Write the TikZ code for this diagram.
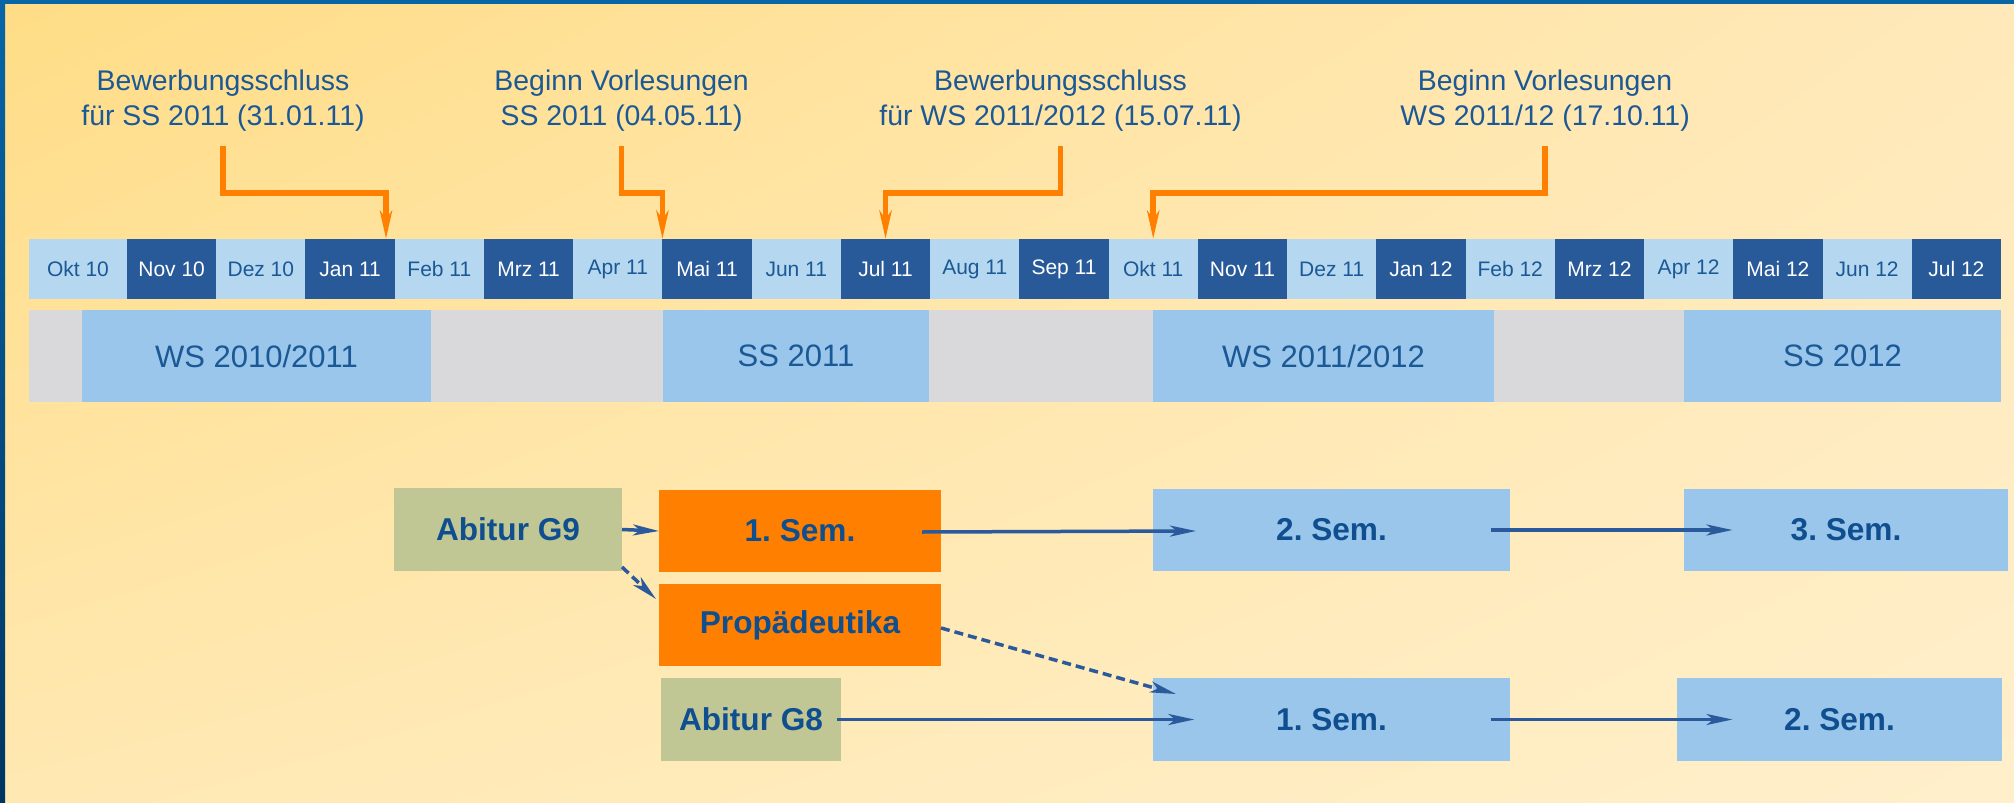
\documentclass[tikz,border=0pt]{standalone}
\usepackage{fontspec}
\setmainfont{Liberation Sans}
\usetikzlibrary{arrows.meta,calc,shadings}
\frenchspacing
\definecolor{bgUL}{HTML}{FFDD86}
\definecolor{bgUR}{HTML}{FFE9BA}
\definecolor{bgLL}{HTML}{FFE8B2}
\definecolor{bgLR}{HTML}{FFEFCB}
\definecolor{frameA}{HTML}{0865A6}
\definecolor{frameB}{HTML}{003562}
\definecolor{labtext}{HTML}{1B5896}
\definecolor{nodetext}{HTML}{0F4F8F}
\definecolor{mlightc}{HTML}{B5D7EF}
\definecolor{mdarkc}{HTML}{285A99}
\definecolor{semblue}{HTML}{99C6EA}
\definecolor{semgray}{HTML}{D9D9DB}
\definecolor{orangec}{HTML}{FF8000}
\definecolor{greenc}{HTML}{C1C794}
\definecolor{arrowc}{HTML}{2A5A9B}
\begin{document}
\begin{tikzpicture}[x=0.5pt,y=-0.5pt,
  month/.style={inner sep=0pt, outer sep=0pt, minimum height=30pt, minimum width=44.619pt, font=\fontsize{10.5}{12}\selectfont},
  mlight/.style={month, fill=mlightc, text=labtext},
  mdark/.style={month, fill=mdarkc, text=white},
  sem/.style={inner sep=0pt, outer sep=0pt, minimum height=46pt, fill=semblue, text=labtext, font=\fontsize{15.5}{18}\selectfont},
  toplab/.style={inner sep=0pt, align=center, text=labtext, font=\fontsize{14.2}{17.5}\selectfont},
  box/.style={inner sep=0pt, outer sep=0pt, minimum height=41.5pt, text=nodetext, font=\fontsize{15.8}{18}\selectfont\bfseries},
  obox/.style={box, fill=orangec},
  gbox/.style={box, fill=greenc},
  bbox/.style={box, fill=semblue},
  oarrow/.style={draw=orangec, line width=2.75pt, -{Stealth[length=14pt,width=6pt,inset=4pt]}},
  barrow/.style={draw=arrowc, line width=1.75pt, -{Stealth[length=13pt,width=5.5pt,inset=3.5pt]}},
  darrow/.style={barrow, dash pattern=on 4.5pt off 2.5pt}]
\useasboundingbox (0,0) rectangle (2014,803);
% background
\shade[upper left=bgUL, upper right=bgUR, lower left=bgLL, lower right=bgLR] (0,0) rectangle (2014,803);
\fill[frameA] (0,0) rectangle (2014,4);
\shade[top color=frameA, bottom color=frameB] (0,0) rectangle (5,803);
% top labels
\node[toplab] (lab1) at (223,101) {Bewerbungsschluss\\für SS 2011 (31.01.11)};
\node[toplab] (lab2) at (621.6,101) {Beginn Vorlesungen\\SS 2011 (04.05.11)};
\node[toplab] (lab3) at (1060.5,101) {Bewerbungsschluss\\für WS 2011/2012 (15.07.11)};
\node[toplab] (lab4) at (1545,101) {Beginn Vorlesungen\\WS 2011/12 (17.10.11)};
% months
\node[mlight, minimum width=49pt] (m0) at (78,269) {Okt 10};
\foreach \lab/\sty [count=\i] in {Nov 10/mdark, Dez 10/mlight, Jan 11/mdark, Feb 11/mlight, Mrz 11/mdark, Apr 11/mlight, Mai 11/mdark, Jun 11/mlight, Jul 11/mdark, Aug 11/mlight, Sep 11/mdark, Okt 11/mlight, Nov 11/mdark, Dez 11/mlight, Jan 12/mdark, Feb 12/mlight, Mrz 12/mdark, Apr 12/mlight, Mai 12/mdark, Jun 12/mlight, Jul 12/mdark}
  \node[\sty] (m\i) at ({82.381+89.238*\i},269) {\lab};
% semesters
\node[inner sep=0pt, outer sep=0pt, fill=semgray, minimum width=986pt, minimum height=46pt] (semback) at (1015,356) {};
\node[sem, minimum width=174.5pt] (ws1) at (256.5,356) {WS 2010/2011};
\node[sem, minimum width=133pt] (ss1) at (796,356) {SS 2011};
\node[sem, minimum width=170.5pt] (ws2) at (1323.5,356) {WS 2011/2012};
\node[sem, minimum width=158.5pt] (ss2) at (1842.5,356) {SS 2012};
% orange arrows
\draw[oarrow] ($(lab1.south)+(0,14)$) |- ($(m3.north east)+(-8.7,-46)$) -- ($(m3.north east)+(-8.7,0)$);
\draw[oarrow] ($(lab2.south)+(0,14)$) |- ($(m7.north west)+(0,-46)$) -- (m7.north west);
\draw[oarrow] ($(lab3.south)+(0,14)$) |- ($(m9.north)+(0,-46)$) -- (m9.north);
\draw[oarrow] ($(lab4.south)+(0,14)$) |- ($(m12.north)+(0,-46)$) -- (m12.north);
% boxes
\node[gbox, minimum width=114pt] (g9) at (508,529.5) {Abitur G9};
\node[obox, minimum width=141pt, minimum height=41pt] (s1o) at (800,531) {1. Sem.};
\node[obox, minimum width=141pt, minimum height=41pt] (prop) at (800,625) {Propädeutika};
\node[gbox, minimum width=90pt] (g8) at (751,719.5) {Abitur G8};
\node[bbox, minimum width=178.5pt, minimum height=41pt] (s2t) at (1331.5,530) {2. Sem.};
\node[bbox, minimum width=162pt, minimum height=41pt] (s3t) at (1846,530) {3. Sem.};
\node[bbox, minimum width=178.5pt] (s1b) at (1331.5,719.5) {1. Sem.};
\node[bbox, minimum width=162.5pt] (s2b) at (1839.5,719.5) {2. Sem.};
% blue arrows
\draw[barrow] (g9.east) -- (s1o.west);
\draw[barrow] ($(s1o.east)+(-19,1)$) -- ($(s2t.west)+(43,1)$);
\draw[barrow] ($(s2t.east)+(-19.4,0)$) -- ($(s3t.west)+(48.5,0)$);
\draw[barrow] ($(g8.east)+(-4.4,0)$) -- ($(s1b.west)+(41.4,0)$);
\draw[barrow] ($(s1b.east)+(-19.4,0)$) -- ($(s2b.west)+(55.5,0)$);
\draw[darrow] ($(g9.south east)+(0,-4)$) -- ($(prop.north west)+(-3,15)$);
\draw[darrow] ($(prop.east)+(0,3)$) -- ($(s1b.north west)+(23,16)$);
\end{tikzpicture}
\end{document}
